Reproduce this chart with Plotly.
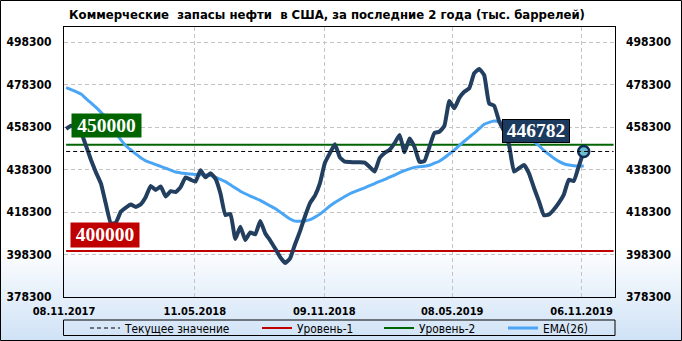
import base64
import pandas as pd
import plotly.graph_objects as go

# ---------------- data (thousand barrels), weekly ----------------
stocks = [
    457400, 458900, 457900, 455800, 449400, 442800, 436900, 431700, 421900, 412900,
    413300, 418500, 420400, 421800, 420700, 422000, 425400, 430600, 428700, 430300,
    425600, 428100, 427700, 430000, 434600, 433500, 432600, 438000, 434600, 436500,
    434000, 427100, 416900, 417400, 405600, 411400, 405100, 408700, 407800, 414100,
    408300, 404900, 401100, 397100, 394300, 396500, 403100, 409300, 416300, 422500,
    426000, 431900, 441500, 446000, 450200, 444000, 442000, 441800, 441700, 441700,
    441500, 439500, 437300, 443700, 446100, 447600, 450700, 454500, 446400, 452900,
    448900, 441900, 442300, 448900, 455500, 456100, 458800, 470500, 467100, 472000,
    474900, 476500, 483600, 485600, 482700, 469400, 468300, 461000, 456300, 449800,
    437300, 438900, 440400, 436500, 429700, 423400, 416800, 417100, 419500, 422600,
    426500, 433500, 432900, 439800, 446782,
]
ema26 = [
    476800, 475900, 474900, 473800, 471700, 469600, 467500, 465200, 462800, 459400,
    455600, 452200, 449500, 447500, 445600, 443800, 442400, 441500, 440600, 439800,
    438900, 438000, 437100, 436700, 436400, 436200, 436000, 435800, 435700, 435500,
    434700, 433600, 432600, 431100, 429600, 428100, 426900, 425800, 424800, 423800,
    422500, 421200, 419900, 418300, 416600, 415000, 414000, 414000, 414100, 414700,
    415900, 417300, 419200, 421100, 422800, 424200, 425600, 426900, 427900, 428800,
    429700, 430700, 431700, 432700, 433600, 434700, 435700, 436800, 437800, 438600,
    439300, 439600, 439800, 440300, 441300, 442200, 443800, 445600, 447400, 449600,
    451600, 453500, 455400, 457500, 459600, 460500, 461100, 460900, 460400, 459500,
    457800, 456200, 454500, 452900, 451300, 449500, 447300, 445400, 443600, 442100,
    441000, 440400, 440100, 439900, 439900,
]
dates = pd.date_range("2017-11-11", periods=len(stocks), freq="7D")

level_1 = 400000
level_2 = 450000
current_value = stocks[-1]

x_tick_dates = ["2017-11-08", "2018-05-11", "2018-11-09", "2019-05-08", "2019-11-06"]
x_tick_labels = ["08.11.2017", "11.05.2018", "09.11.2018", "08.05.2019", "06.11.2019"]
y_ticks = [378300, 398300, 418300, 438300, 458300, 478300, 498300]

title_text = "Коммерческие  запасы нефти  в США, за последние 2 года (тыс. баррелей)"
legend_names = ["Текущее значение", "Уровень-1", "Уровень-2", "EMA(26)"]

# ---------------- layout constants ----------------
W, H = 682, 341
ML, MR, MT, MB = 64, 67, 27, 44
PW, PH = W - ML - MR, H - MT - MB
X_RANGE = ["2017-11-08", "2019-12-23"]
Y_RANGE = [378300, 505360]
line_end = "2019-12-21"
legend_line_starts = [90, 262, 384, 508]   # px where each legend sample line begins

FONT = "DejaVu Sans Condensed, DejaVu Sans, sans-serif"
NAVY = "#233f60"
EMA_COL = "#4aa6f5"
RED = "#c00000"
GREEN = "#006400"

fig = go.Figure()

# horizontal reference lines
fig.add_trace(go.Scatter(
    x=[dates[0], line_end], y=[current_value, current_value], mode="lines",
    line=dict(color="black", width=1, dash="4px,3px"), name=legend_names[0],
    hoverinfo="skip", yaxis="y2", legend="legend"))
fig.add_trace(go.Scatter(
    x=[dates[0], line_end], y=[level_1, level_1], mode="lines",
    line=dict(color=RED, width=2), name=legend_names[1], hoverinfo="skip", legend="legend2"))
fig.add_trace(go.Scatter(
    x=[dates[0], line_end], y=[level_2, level_2], mode="lines",
    line=dict(color=GREEN, width=2), name=legend_names[2], hoverinfo="skip", legend="legend3"))
# EMA
fig.add_trace(go.Scatter(
    x=dates, y=ema26, mode="lines", line=dict(color=EMA_COL, width=3, shape="spline", smoothing=0.6),
    name=legend_names[3], legend="legend4"))
# stocks
fig.add_trace(go.Scatter(
    x=dates, y=stocks, mode="lines", line=dict(color=NAVY, width=4, shape="spline", smoothing=0.4),
    showlegend=False, name="stocks"))
# last point marker
fig.add_trace(go.Scatter(
    x=[dates[-1]], y=[current_value], mode="markers", showlegend=False,
    marker=dict(size=11, color="#6cbcd0", line=dict(color="#0f2d55", width=2.5))))

axis_font = dict(family=FONT, size=12, color="black")
grid = dict(showgrid=True, gridcolor="#c4c4c4", griddash="4px,3px", gridwidth=1)


def legend_box(px):
    return dict(orientation="h", x=(px - 5 - ML) / PW, xanchor="left",
                y=(MT + PH - 328) / PH, yanchor="middle",
                bgcolor="rgba(0,0,0,0)", borderwidth=0,
                font=dict(family=FONT, size=11.8, color="black"), itemwidth=30)


fig.update_layout(
    width=W, height=H,
    margin=dict(l=ML, r=MR, t=MT, b=MB, pad=0, autoexpand=False),
    paper_bgcolor="white",
    plot_bgcolor="rgba(0,0,0,0)",
    showlegend=True,
    title=dict(text="<b>" + title_text + "</b>", x=(327 - ML) / PW, xref="paper", xanchor="center",
               y=1 - 14 / H, yref="container", yanchor="middle",
               font=dict(family=FONT, size=13, color="black")),
    xaxis=dict(type="date", range=X_RANGE, tickmode="array", tickvals=x_tick_dates,
               ticktext=["<b>%s</b>" % t for t in x_tick_labels],
               tickfont=dict(family=FONT, size=11, color="black"),
               ticks="", ticklabelstandoff=4,
               showline=True, linecolor="black", linewidth=1, mirror=True,
               zeroline=False, **grid),
    yaxis=dict(range=Y_RANGE, tickmode="array", tickvals=y_ticks,
               ticktext=["<b>%d</b>" % v for v in y_ticks],
               tickfont=axis_font, ticks="", ticklabelstandoff=9,
               showline=True, linecolor="black", linewidth=1, mirror=True,
               zeroline=False, **grid),
    yaxis2=dict(range=Y_RANGE, overlaying="y", side="right", matches="y",
                tickmode="array", tickvals=y_ticks,
                ticktext=["<b>%d</b>" % v for v in y_ticks],
                tickfont=axis_font, ticks="", ticklabelstandoff=10,
                showgrid=False, zeroline=False, showline=False),
    legend=legend_box(legend_line_starts[0]),
    legend2=legend_box(legend_line_starts[1]),
    legend3=legend_box(legend_line_starts[2]),
    legend4=legend_box(legend_line_starts[3]),
    hovermode=False,
)

# background gradient
svg = ('<svg xmlns="http://www.w3.org/2000/svg" width="682" height="341" preserveAspectRatio="none">'
       '<defs><linearGradient id="g" x1="0" y1="0" x2="0" y2="1">'
       '<stop offset="0" stop-color="#ffffff"/><stop offset="0.72" stop-color="#ffffff"/>'
       '<stop offset="1" stop-color="#cfe2f6"/></linearGradient></defs>'
       '<rect width="682" height="341" fill="url(#g)"/></svg>')
src = "data:image/svg+xml;base64," + base64.b64encode(svg.encode()).decode()
fig.add_layout_image(dict(source=src, xref="paper", yref="paper",
                          x=-ML / PW, y=(PH + MT) / PH, xanchor="left", yanchor="top",
                          sizex=W / PW, sizey=H / PH, sizing="stretch", layer="below"))

# outer frame and legend box
fig.add_shape(type="rect", xref="paper", yref="paper",
              x0=(0.5 - ML) / PW, x1=(W - 0.5 - ML) / PW,
              y0=(MT + PH - (H - 0.5)) / PH, y1=(MT + PH - 0.5) / PH,
              line=dict(color="black", width=1), fillcolor="rgba(0,0,0,0)", layer="above")
fig.add_shape(type="rect", xref="paper", yref="paper",
              x0=(63.5 - ML) / PW, x1=(615 - ML) / PW,
              y0=(MT + PH - 335.5) / PH, y1=(MT + PH - 320) / PH,
              line=dict(color="black", width=1), fillcolor="rgba(0,0,0,0)", layer="above")

# level labels
lab_font = dict(family="Liberation Serif, DejaVu Serif, serif", size=19.5, color="white")
fig.add_annotation(x=(71 - ML) / PW, xref="paper", xanchor="left", y=level_2, yref="y",
                   yanchor="bottom", yshift=6.5, text="<b>%d</b>" % level_2, showarrow=False,
                   bgcolor=GREEN, borderpad=1, width=67, height=21, font=lab_font)
fig.add_annotation(x=(70 - ML) / PW, xref="paper", xanchor="left", y=level_1, yref="y",
                   yanchor="bottom", yshift=3, text="<b>%d</b>" % level_1, showarrow=False,
                   bgcolor=RED, borderpad=1, width=66, height=21.5, font=lab_font)
fig.add_annotation(x=(536 - ML) / PW, xref="paper", xanchor="center", y=current_value, yref="y",
                   yanchor="bottom", yshift=8.5, text="<b>%d</b>" % current_value, showarrow=False,
                   bgcolor="#1b3a5e", bordercolor="black", borderwidth=1, borderpad=1,
                   width=64, height=19.5, font=lab_font)

fig.write_html("out.html")
